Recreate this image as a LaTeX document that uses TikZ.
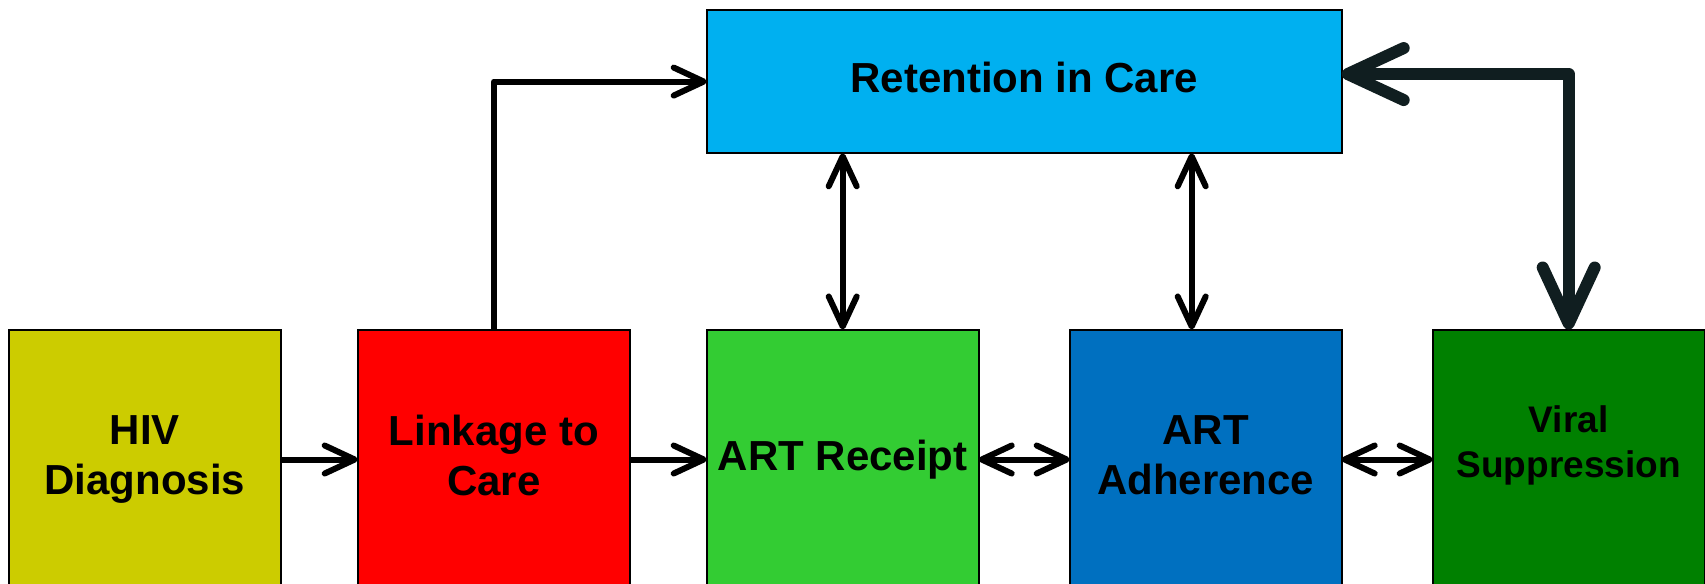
\documentclass[tikz,border=0pt]{standalone}
\usepackage{fontspec}
\setmainfont{Liberation Sans}
\usetikzlibrary{arrows.meta,positioning}

\definecolor{hivcol}{RGB}{204,204,0}
\definecolor{linkcol}{RGB}{255,0,0}
\definecolor{receiptcol}{RGB}{51,204,51}
\definecolor{adhcol}{RGB}{0,112,192}
\definecolor{viralcol}{RGB}{0,128,0}
\definecolor{retcol}{RGB}{0,176,240}
\definecolor{darkarrow}{RGB}{16,30,32}

\begin{document}
\begin{tikzpicture}[
  font=\fontsize{21}{25}\selectfont\bfseries,
  node distance=38.5pt and 38.5pt,
  box/.style={draw, line width=1pt, outer sep=0pt, align=center, inner sep=2pt, text depth=4.5pt, minimum width=136pt, minimum height=130pt},
  retbox/.style={box, minimum width=317.5pt, minimum height=71.75pt},
  arrow/.style={-{Straight Barb[length=15pt, width=14pt, round]}, line width=3pt, line join=round},
  twoway/.style={{Straight Barb[length=15pt, width=14pt, round]}-{Straight Barb[length=15pt, width=14pt, round]}, line width=3pt},
  bigarrow/.style={{Straight Barb[length=28pt, width=26pt, round]}-{Straight Barb[length=28pt, width=26pt, round]}, line width=6pt, draw=darkarrow, line join=round}
]
\useasboundingbox (0,0) rectangle (852.5pt,-292pt);

\node[box, fill=hivcol, anchor=north west] (hiv) at (4.35pt,-164.75pt) {HIV\\Diagnosis};
\node[box, fill=linkcol, right=of hiv] (link) {Linkage to\\Care};
\node[box, fill=receiptcol, right=of link] (receipt) {ART Receipt};
\node[box, fill=adhcol, right=45.5pt of receipt] (adherence) {ART\\Adherence};
\node[box, fill=viralcol, right=45.5pt of adherence, font=\fontsize{18.5}{22.8}\selectfont\bfseries, text depth=18pt] (viral) {Viral\\Suppression};
\node[retbox, fill=retcol, above=88.1pt of receipt.north west, anchor=south west] (retention) {Retention in Care};

\coordinate (adhtop) at ([xshift=-7pt]adherence.north);

\draw[arrow] (hiv) -- (link);
\draw[arrow] (link) -- (receipt);
\draw[twoway] (receipt) -- (adherence);
\draw[twoway] (adherence) -- (viral);
\draw[arrow] (link.north) |- (retention.west);
\draw[twoway] (retention.south -| receipt.north) -- (receipt.north);
\draw[twoway] (retention.south -| adhtop) -- (adhtop);
\draw[bigarrow] ([yshift=3.75pt]retention.east) -| (viral.north);

\end{tikzpicture}
\end{document}
